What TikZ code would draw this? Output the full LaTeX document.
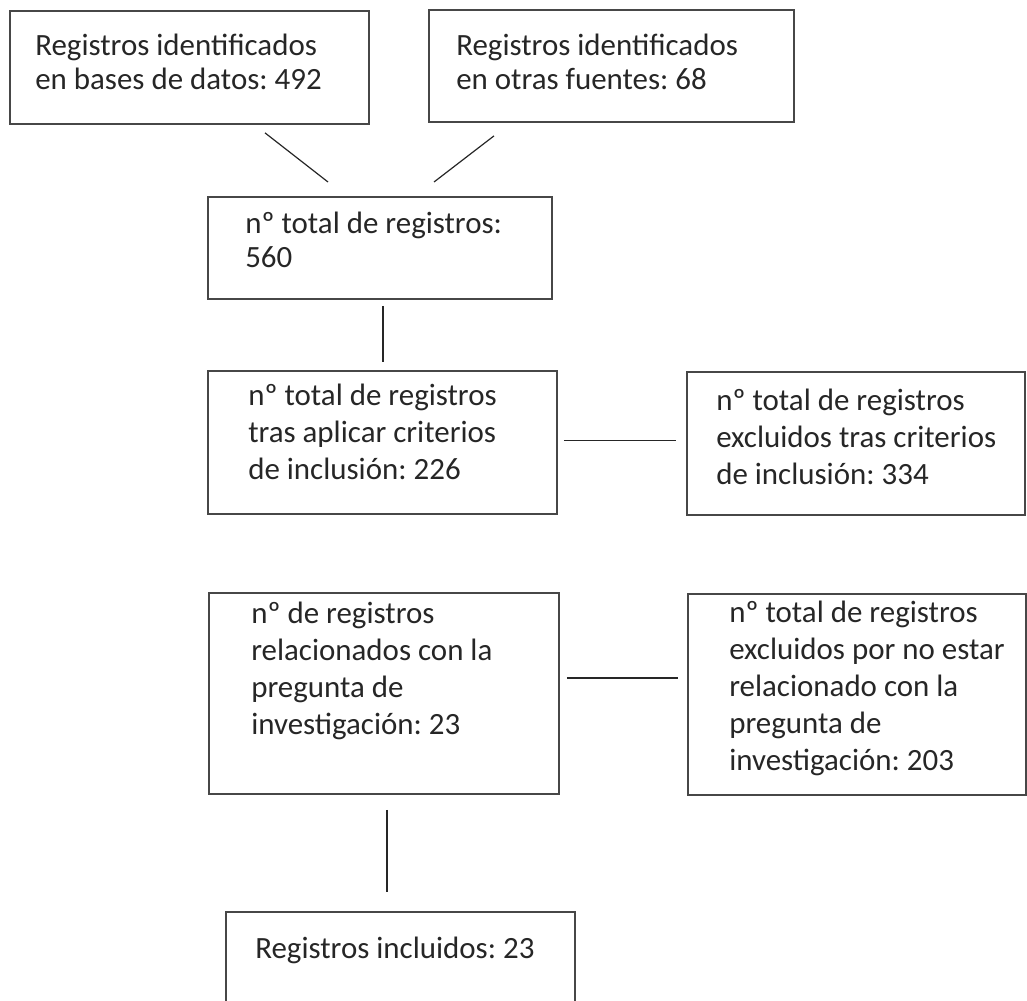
\documentclass[tikz,border=0pt]{standalone}
\usepackage{fontspec}
\setmainfont{Carlito}
\frenchspacing
\usetikzlibrary{calc}
\tikzset{
  box/.style={draw=black!72, line width=1.4pt, rectangle, inner sep=0pt, anchor=north west},
  txt/.style={anchor=north west, inner sep=0pt, align=left, text=black!85,
              font=\fontsize{23.2pt}{27.75pt}\selectfont},
  tight/.style={font=\fontsize{23.2pt}{26pt}\selectfont},
  link/.style={draw=black!85, line width=0.9pt},
}
\begin{document}
\begin{tikzpicture}[x=0.75pt,y=-0.75pt]
\useasboundingbox (0,0) rectangle (1027,1000);
\clip (0,0) rectangle (1027,1000);

% boxes
\node[box, minimum width={359*0.75pt}, minimum height={113*0.75pt}] (b1) at (9,10) {};
\node[box, minimum width={365*0.75pt}, minimum height={112*0.75pt}] (b2) at (428,9) {};
\node[box, minimum width={344*0.75pt}, minimum height={102*0.75pt}] (b3) at (207,196) {};
\node[box, minimum width={349*0.75pt}, minimum height={143*0.75pt}] (b4) at (207,370) {};
\node[box, minimum width={338*0.75pt}, minimum height={143*0.75pt}] (b5) at (686,371) {};
\node[box, minimum width={350*0.75pt}, minimum height={201*0.75pt}] (b6) at (208,592) {};
\node[box, minimum width={338*0.75pt}, minimum height={201*0.75pt}] (b7) at (687,593) {};
\node[box, minimum width={349*0.75pt}, minimum height={130*0.75pt}] (b8) at (225,911) {};

% texts
\node[txt, tight] (t1) at (35,30.7) {\strut Registros identificados\\en bases de datos: 492};
\node[txt, tight] (t2) at (456,30.7) {\strut Registros identificados\\en otras fuentes: 68};
\node[txt, tight] (t3) at (245,208.7) {\strut nº total de registros:\\560};
\node[txt] (t4) at (248,379.1) {\strut nº total de registros\\tras aplicar criterios\\de inclusión: 226};
\node[txt] (t5) at (716,384.1) {\strut nº total de registros\\excluidos tras criterios\\de inclusión: 334};
\node[txt] (t6) at (251,597.1) {\strut nº de registros\\relacionados con la\\pregunta de\\investigación: 23};
\node[txt] (t7) at (729,596.1) {\strut nº total de registros\\excluidos por no estar\\relacionado con la\\pregunta de\\investigación: 203};
\node[txt] (t8) at (255,932.1) {\strut Registros incluidos: 23};

% connectors
\draw[link] ($(b1.south west)+(256,8)$) -- ($(b3.north west)+(121,-14)$);
\draw[link] ($(b2.south west)+(66,13)$) -- ($(b3.north west)+(227,-14)$);
\draw[link] ($(b3.south west)+(176,6)$) -- ($(b4.north west)+(176,-8)$);
\draw[link] ($(b4.east)+(6,-2)$) -- ($(b5.west)+(-10,-3)$);
\draw[link] ($(b6.east)+(7,-15.5)$) -- ($(b7.west)+(-9,-16.5)$);
\draw[link] ($(b6.south west)+(179,15)$) -- ($(b8.north west)+(162,-19)$);
\end{tikzpicture}
\end{document}
